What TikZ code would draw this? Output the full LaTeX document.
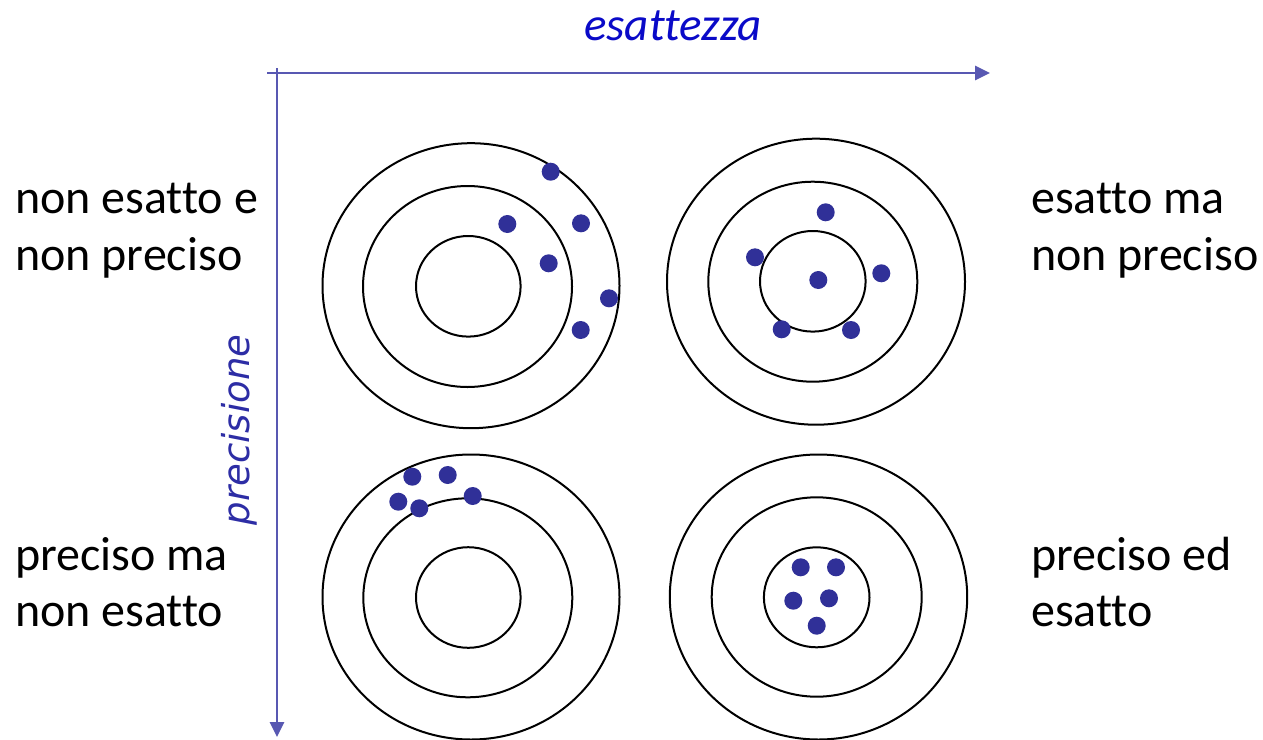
\documentclass[tikz,border=0pt]{standalone}
\usepackage{fontspec}
\setmainfont{Carlito}[Ligatures={NoCommon,NoRare,NoDiscretionary}]
\newfontfamily\axisfont{DejaVu Sans}
\usetikzlibrary{arrows.meta}
\definecolor{axiscol}{RGB}{88,88,178}
\definecolor{dotcol}{RGB}{48,48,152}
\definecolor{titlecol}{RGB}{10,10,200}
\definecolor{precol}{RGB}{45,45,165}
\tikzset{
  ring/.style={draw=black, line width=2pt},
  shot/.style={fill=dotcol, draw=none},
  lbl/.style={anchor=base west, inner sep=0pt, font=\fontsize{48}{57}\selectfont},
  axisline/.style={draw=axiscol, line width=2.6pt, -{Triangle[length=15pt,width=14pt]}}
}
\begin{document}
\begin{tikzpicture}[x=1pt,y=-1pt]
\useasboundingbox (0,0) rectangle (1263,739);
\fill[white] (0,0) rectangle (1263,739);
% axes
\coordinate (hx0) at (267,73);
\coordinate (hx1) at (990,73);
\coordinate (vy0) at (277,68);
\coordinate (vy1) at (277,737);
\draw[axisline] (hx0) -- (hx1);
\draw[axisline] (vy0) -- (vy1);
\node[inner sep=0pt, anchor=base west, text=titlecol, font=\fontsize{47}{56}\selectfont\itshape] (esa) at (584,40) {esattezza};
\node[inner sep=0pt, rotate=90, text=precol, font=\axisfont\fontsize{37}{44}\selectfont\itshape] (pre) at (239,430) {precisione};
% targets
\draw[ring] (471,285.7) ellipse [x radius=148.5, y radius=142.5];
\draw[ring] (467.5,286.5) ellipse [x radius=104.5, y radius=100.5];
\draw[ring] (468.3,286.3) ellipse [x radius=52.3, y radius=50.3];
\draw[ring] (816,281.7) ellipse [x radius=149, y radius=143];
\draw[ring] (812.8,281.7) ellipse [x radius=104.5, y radius=100];
\draw[ring] (812.8,281.3) ellipse [x radius=52.8, y radius=50.3];
\draw[ring] (471,597) ellipse [x radius=148.5, y radius=142.5];
\draw[ring] (467.8,597.8) ellipse [x radius=104.5, y radius=99.5];
\draw[ring] (468.3,597.5) ellipse [x radius=52.3, y radius=50.3];
\draw[ring] (818.5,597) ellipse [x radius=148.7, y radius=142.5];
\draw[ring] (816.7,597) ellipse [x radius=105, y radius=99.7];
\draw[ring] (816.7,597.3) ellipse [x radius=52.8, y radius=50];
% shots
\foreach \p in {(550.7,171.7),(507.3,224),(581,223.3),(548.7,263.3),(609,298.3),(580.7,330),
                (825.7,212.3),(755,257.3),(881.3,273.3),(818.3,280),(781.7,329.3),(851,330),
                (412.3,476.7),(447.7,475),(398.3,501.7),(419.3,508.3),(472.7,496),
                (800.7,567.3),(836,567.3),(793.3,600.7),(829,598.3),(816.7,625.7)}
  \fill[shot] \p circle [radius=9];
% labels
\node[lbl] (tl1) at (15,213) {non esatto e};
\node[lbl] (tl2) at (15,270) {non preciso};
\node[lbl] (tr1) at (1031,213) {esatto ma};
\node[lbl] (tr2) at (1031,270) {non preciso};
\node[lbl] (bl1) at (15,570) {preciso ma};
\node[lbl] (bl2) at (15,626) {non esatto};
\node[lbl] (br1) at (1031,570) {preciso ed};
\node[lbl] (br2) at (1031,626) {esatto};
\end{tikzpicture}
\end{document}
